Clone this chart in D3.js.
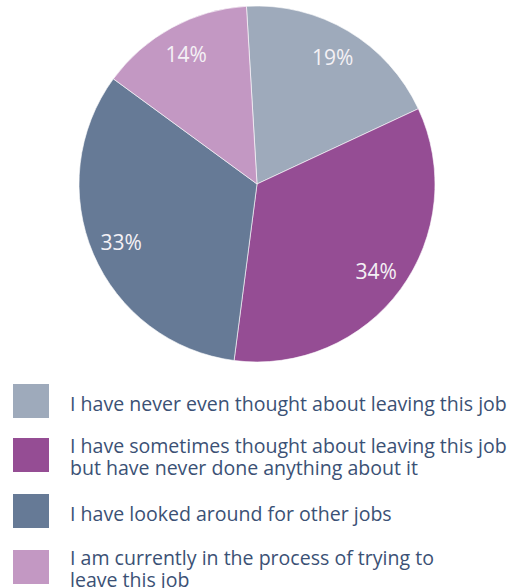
<!DOCTYPE html>
<html>
<head>
<meta charset="utf-8">
<script src="https://cdn.jsdelivr.net/npm/d3@7"></script>
<style>
  html, body { margin: 0; padding: 0; background: #ffffff; }
  svg { display: block; }
  text { font-family: "Open Sans", "Noto Sans", sans-serif; }
</style>
</head>
<body>
<svg id="chart" width="513" height="588"></svg>
<script>
// Survey answers and their shares (percent)
const categories = [
  ["I have never even thought about leaving this job"],
  ["I have sometimes thought about leaving this job", "but have never done anything about it"],
  ["I have looked around for other jobs"],
  ["I am currently in the process of trying to", "leave this job"]
];
const shares = [19, 34, 33, 14];
const colors = ["#9eaabb", "#954d94", "#667a96", "#c398c3"];

const svg = d3.select("#chart");
const cx = 257, cy = 184, radius = 178;
const startAngle = -3.4 * Math.PI / 180;

const pie = d3.pie()
  .sort(null)
  .value(d => d)
  .startAngle(startAngle)
  .endAngle(startAngle + 2 * Math.PI);

const arc = d3.arc().innerRadius(0).outerRadius(radius);
const labelArc = d3.arc().innerRadius(radius * 0.83).outerRadius(radius * 0.83);

const g = svg.append("g").attr("transform", `translate(${cx},${cy})`);
const arcs = pie(shares);

g.selectAll("path.slice")
  .data(arcs)
  .join("path")
  .attr("class", "slice")
  .attr("d", arc)
  .attr("fill", (d, i) => colors[i])
  .attr("stroke", "#ffffff")
  .attr("stroke-width", 0.6);

g.selectAll("text.pct")
  .data(arcs)
  .join("text")
  .attr("class", "pct")
  .attr("transform", d => `translate(${labelArc.centroid(d)})`)
  .attr("text-anchor", "middle")
  .attr("dy", "0.36em")
  .attr("fill", "#f4f1f5")
  .attr("font-size", 21)
  .attr("font-weight", 400)
  .text(d => d.data + "%");

// Legend: swatch plus one text element per wrapped line
const legendTop = [384, 438, 494, 550];
const lineGap = 21.5;
const items = svg.append("g").selectAll("g.item")
  .data(categories)
  .join("g")
  .attr("class", "item")
  .attr("transform", (d, i) => `translate(13,${legendTop[i]})`);

items.append("rect")
  .attr("width", 36)
  .attr("height", 34)
  .attr("fill", (d, i) => colors[i]);

const lines = items.selectAll("text")
  .data(d => d.map((line, k) => ({ line, k, n: d.length })))
  .join("text")
  .attr("x", 57)
  .attr("y", d => (d.n > 1 ? 15 : 26.5) + d.k * lineGap)
  .attr("fill", "#3b5175")
  .attr("font-size", 19)
  .attr("font-weight", 400)
  .text(d => d.line);

// Size the legend type so the longest line spans the legend's width
const widest = d3.max(lines.nodes(), n => n.getComputedTextLength());
const targetWidth = 437;
lines.attr("font-size", 19 * targetWidth / widest);
</script>
</body>
</html>
